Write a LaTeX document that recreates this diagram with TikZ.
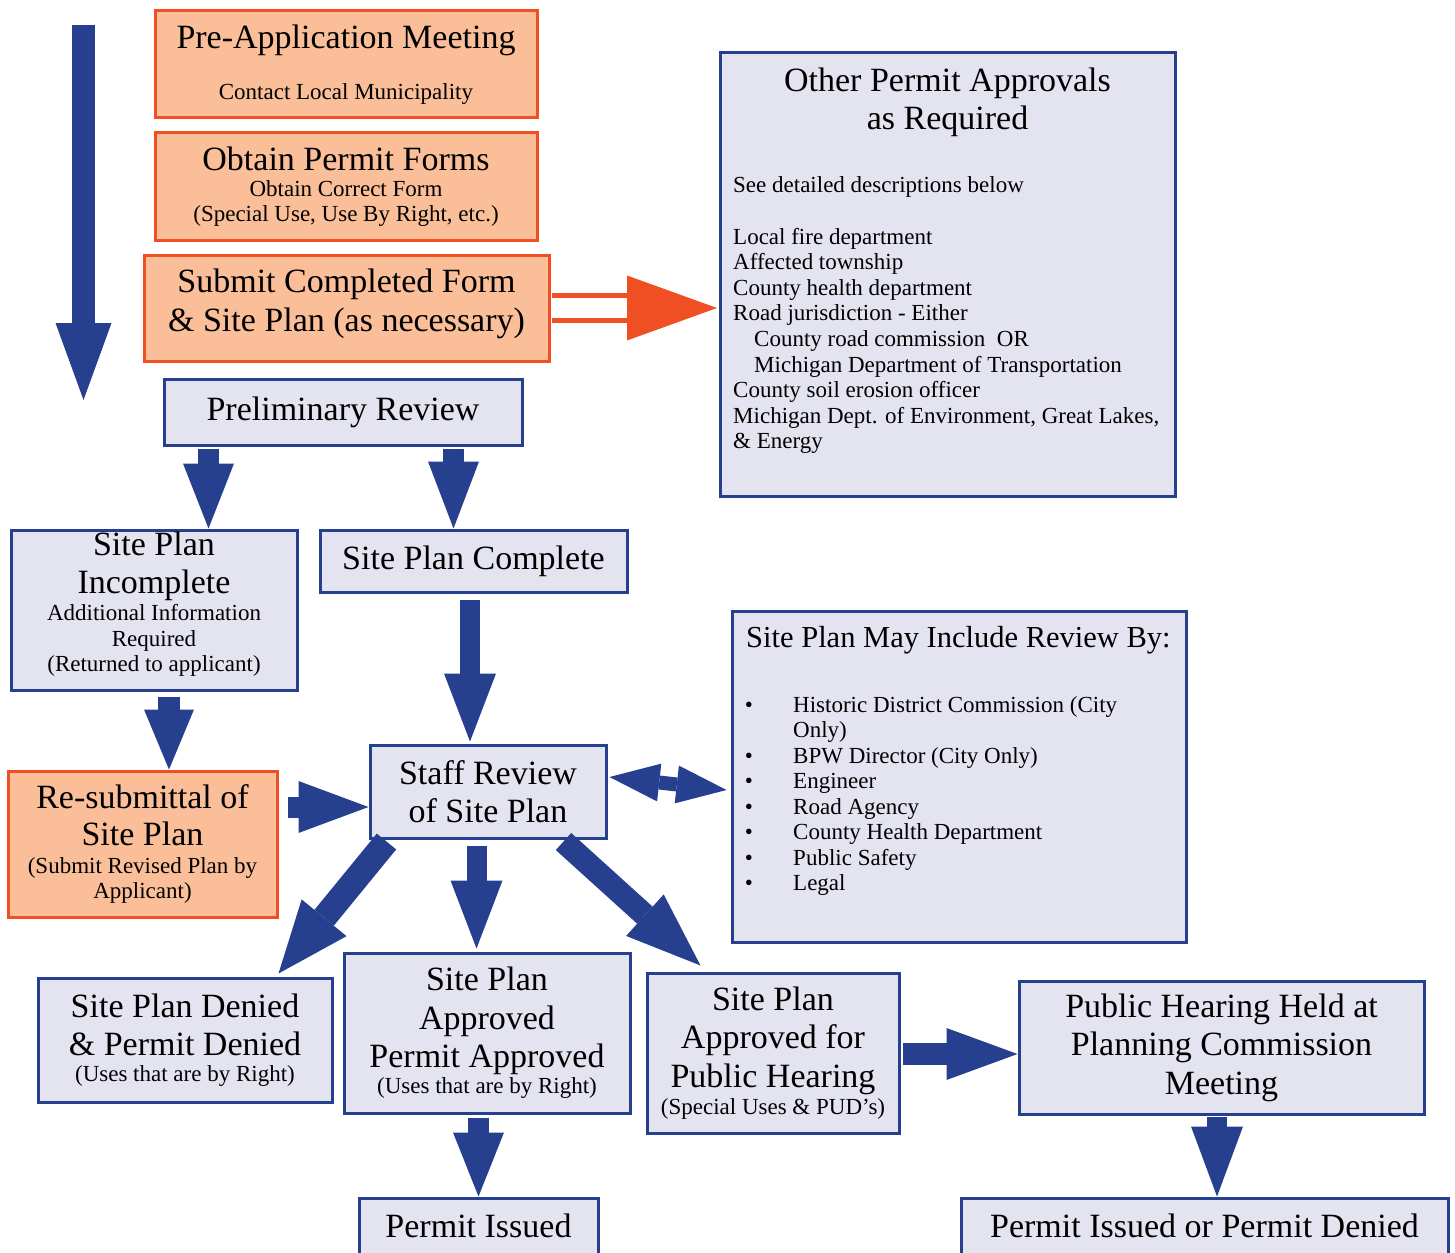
\documentclass[tikz,border=0pt]{standalone}
\usepackage{fontspec}
\setmainfont{Liberation Serif}
\usetikzlibrary{arrows.meta,calc}
\definecolor{flowblue}{RGB}{38,64,143}
\definecolor{boxfill}{RGB}{227,228,240}
\definecolor{peach}{RGB}{250,190,152}
\definecolor{flame}{RGB}{240,78,35}
\newcommand\boxfont{\fontsize{34}{38.5}\selectfont}
\newcommand\notefont{\fontsize{23}{25.7}\selectfont}
\newcommand\lowstrut[1]{\rule[-#1]{0pt}{#1}}
\tikzset{
  bluebox/.style={draw=flowblue, fill=boxfill, line width=3pt, inner sep=0pt, align=center, font=\boxfont},
  peachbox/.style={bluebox, draw=flame, fill=peach},
  flow/.style={draw=flowblue, line width=#1, -{Triangle[length=68pt,width=52pt,line width=0pt]}},
  flow/.default=21pt,
  titleline/.style={inner sep=0pt, anchor=base, font=\boxfont},
  listline/.style={inner sep=0pt, anchor=base west, font=\notefont},
}
\begin{document}
\begin{tikzpicture}[x=1pt,y=-1pt]
\useasboundingbox (0,0) rectangle (1455,1252);
% boxes
\node[peachbox, minimum width=382pt, minimum height=107pt] (preapp) at (346,64.5) {Pre-Application Meeting\\[12pt]{\notefont Contact Local Municipality}};
\node[peachbox, minimum width=382pt, minimum height=107pt] (forms) at (346,186.5) {Obtain Permit Forms\\[-12.5pt]{\notefont Obtain Correct Form}\\[-13pt]{\notefont (Special Use, Use By Right, etc.)}};
\node[peachbox, minimum width=405pt, minimum height=106pt] (submit) at (346.5,308) {Submit Completed Form\\\& Site Plan (as necessary)\lowstrut{15.5pt}};
\node[bluebox, minimum width=455pt, minimum height=443pt] (other) at (947.5,274.5) {};
\node[bluebox, minimum width=358pt, minimum height=66pt] (prelim) at (343,412) {Preliminary Review};
\node[bluebox, minimum width=286pt, minimum height=160pt] (incomplete) at (154,610) {Site Plan\\Incomplete\\[-11.5pt]{\notefont Additional Information}\\[-13pt]{\notefont Required}\\[-13pt]{\notefont (Returned to applicant)\lowstrut{17pt}}};
\node[bluebox, minimum width=307pt, minimum height=62pt] (complete) at (473.5,561) {Site Plan Complete};
\node[peachbox, minimum width=269pt, minimum height=146pt] (resubmit) at (142.5,844) {Re-submittal of\\[-1pt]Site Plan\\[-11pt]{\notefont (Submit Revised Plan by}\\[-13pt]{\notefont Applicant)}};
\node[bluebox, minimum width=236pt, minimum height=93pt] (staff) at (488,791.5) {Staff Review\\of Site Plan};
\node[bluebox, minimum width=454pt, minimum height=331pt] (mayinc) at (959,776.5) {};
\node[bluebox, minimum width=294pt, minimum height=124pt] (denied) at (185,1040) {Site Plan Denied\\\& Permit Denied\\[-12.5pt]{\notefont (Uses that are by Right)}};
\node[bluebox, minimum width=286pt, minimum height=160pt] (approved) at (487,1033) {Site Plan\\Approved\\Permit Approved\\[-12.5pt]{\notefont (Uses that are by Right)}};
\node[bluebox, minimum width=252pt, minimum height=160pt] (hearing) at (773,1053) {Site Plan\\Approved for\\Public Hearing\\[-11.5pt]{\notefont (Special Uses \& PUD’s)}};
\node[bluebox, minimum width=405pt, minimum height=133pt] (public) at (1221.5,1047.5) {Public Hearing Held at\\Planning Commission\\Meeting};
\node[bluebox, minimum width=239pt, minimum height=56pt] (issued) at (478.5,1226) {Permit Issued};
\node[bluebox, minimum width=487pt, minimum height=56pt] (final) at (1204.5,1226) {Permit Issued or Permit Denied};
% text of the two side boxes
\node[titleline] (othertitle1) at (947.5,92) {Other Permit Approvals};
\node[titleline] (othertitle2) at (947.5,129.5) {as Required};
\node[listline] (seebelow) at (733,193) {See detailed descriptions below};
\foreach \t [count=\i from 0] in {Local fire department, Affected township, County health department, Road jurisdiction - Either, \hspace*{21pt}County road commission\ \ OR, \hspace*{21pt}Michigan Department of Transportation, County soil erosion officer, {Michigan Dept. of Environment, Great Lakes,}, \& Energy}
  \node[listline] (agency\i) at (733,244+25.6*\i) {\t};
\node[listline, font=\fontsize{30.5}{34}\selectfont] (reviewtitle) at (746,647) {Site Plan May Include Review By:};
\foreach \t [count=\i from 0] in {Historic District Commission (City, Only), BPW Director (City Only), Engineer, Road Agency, County Health Department, Public Safety, Legal}
  \node[listline] (reviewer\i) at (793,712+25.5*\i) {\t};
\foreach \i in {0,2,3,4,5,6,7}
  \node[listline, anchor=base] (bullet\i) at (749,712+25.5*\i) {\textbullet};
% arrows
\coordinate (timetop) at (83.5,25);
\coordinate (timeend) at (83.5,400);
\draw[flow=23pt, -{Triangle[length=77pt,width=56pt,line width=0pt]}] (timetop) -- (timeend);
\draw[draw=flame, line width=5pt, double=white, double distance=20pt, shorten <=1.5pt, shorten >=1.5pt, -{Triangle[length=90pt,width=65pt,line width=0pt,fill=flame]}] (submit.east) -- (submit.east -| other.west);
\coordinate (p1) at ($(prelim.south west)+(46,2)$);
\coordinate (p2) at ($(prelim.south west)+(291,2)$);
\draw[flow, -{Triangle[length=65pt,width=51pt,line width=0pt]}] (p1) -- (p1 |- incomplete.north);
\draw[flow, -{Triangle[length=67pt,width=51pt,line width=0pt]}] (p2) -- (p2 |- complete.north);
\coordinate (c1) at ($(complete.south)+(-3.5,6)$);
\draw[flow=20pt, shorten >=2pt] (c1) -- (c1 |- staff.north);
\coordinate (i1) at ($(incomplete.south)+(15,5)$);
\draw[flow=22pt, -{Triangle[length=60pt,width=50pt,line width=0pt]}] (i1) -- (i1 |- resubmit.north);
\coordinate (r1) at ($(resubmit.east)+(9,-37)$);
\draw[flow=21pt, -{Triangle[length=70pt,width=52pt,line width=0pt]}] (r1) -- (r1 -| staff.west);
\draw[flow=14pt, {Triangle[length=50pt,width=38pt,line width=0pt]}-{Triangle[length=50pt,width=38pt,line width=0pt]}] ($(staff.east)+(2,-14.5)$) -- ($(mayinc.west)+(-4,13.5)$);
\draw[flow=25pt, -{Triangle[length=72pt,width=58pt,line width=0pt]}] ($(staff.south west)+(18,2)$) -- ($(denied.north east)+(-55,-3)$);
\coordinate (s1) at ($(staff.south west)+(108,6)$);
\draw[flow=20pt, shorten >=3pt] (s1) -- (s1 |- approved.north);
\draw[flow=23pt, -{Triangle[length=75pt,width=56pt,line width=0pt]}] ($(staff.south west)+(195,2)$) -- ($(hearing.north west)+(55,-6)$);
\coordinate (h1) at ($(hearing.east)+(2,1)$);
\draw[flow=22pt, -{Triangle[length=71pt,width=52pt,line width=0pt]}] (h1) -- (h1 -| public.west);
\coordinate (a1) at ($(approved.south)+(-8.5,3)$);
\draw[flow, -{Triangle[length=64pt,width=51pt,line width=0pt]}] (a1) -- (a1 |- issued.north);
\coordinate (u1) at ($(public.south)+(-4.5,1)$);
\draw[flow=20pt, -{Triangle[length=70pt,width=52pt,line width=0pt]}] (u1) -- (u1 |- final.north);
\end{tikzpicture}
\end{document}
